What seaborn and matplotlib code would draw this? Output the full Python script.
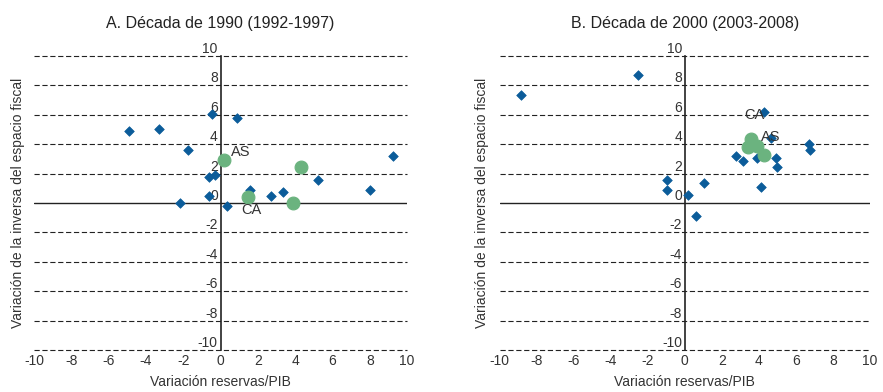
import numpy as np
import pandas as pd
import seaborn as sns
import matplotlib.pyplot as plt

sns.set_style('white')
plt.rcParams['font.family'] = ['Liberation Sans', 'DejaVu Sans']
plt.rcParams['axes.unicode_minus'] = False

# Panel A: 1990s, blue = individual countries, green = group averages
a_x = [-4.92, -3.32, -1.74, -0.44, 0.86, -0.60, -0.32, -0.64, -2.19, 0.37,
       1.57, 2.71, 3.37, 9.22, 5.22, 8.00]
a_y = [4.88, 5.04, 3.59, 6.07, 5.79, 1.77, 1.91, 0.45, 0.00, -0.18,
       0.91, 0.50, 0.75, 3.18, 1.57, 0.86]
a_gx = [0.20, 1.46, 4.32, 3.90]
a_gy = [2.95, 0.41, 2.47, -0.03]

# Panel B: 2000s
b_x = [-8.84, -2.50, -0.95, -0.95, 0.20, 0.58, 1.04, 2.77, 3.14, 3.90,
       4.28, 4.13, 4.64, 4.90, 4.98, 6.70, 6.74]
b_y = [7.38, 8.70, 1.54, 0.91, 0.57, -0.87, 1.38, 3.18, 2.88, 3.04,
       6.18, 1.11, 4.43, 3.07, 2.45, 4.02, 3.63]
b_gx = [3.60, 3.41, 3.90, 4.28]
b_gy = [4.36, 3.82, 3.90, 3.29]

ticks = [-10, -8, -6, -4, -2, 0, 2, 4, 6, 8, 10]
blue = '#0b5c9a'
green = '#6bb37f'

panels = [
    ('A. Década de 1990 (1992-1997)', a_x, a_y, a_gx, a_gy,
     [('AS', 0.55, 3.45), ('CA', 1.10, -0.50)]),
    ('B. Década de 2000 (2003-2008)', b_x, b_y, b_gx, b_gy,
     [('CA', 3.20, 6.00), ('AS', 4.10, 4.50)]),
]
positions = [[0.0385, 0.107, 0.4225, 0.75], [0.5657, 0.107, 0.4196, 0.75]]
ylabel_x = [18, 482]

fig = plt.figure(figsize=(8.83, 3.92), dpi=100)

for i, (title, x, y, gx, gy, labels) in enumerate(panels):
    ax = fig.add_axes(positions[i])
    pts = pd.DataFrame({'x': x, 'y': y})
    grp = pd.DataFrame({'x': gx, 'y': gy})

    ax.set_xlim(-10, 10)
    ax.set_ylim(-10, 10)
    ax.set_xticks(ticks)
    ax.set_yticks(ticks)

    # dashed horizontal grid, solid zero line
    for t in ticks:
        if t == 0:
            ax.axhline(0, color='#222222', linewidth=1.0, zorder=2)
        else:
            ax.axhline(t, color='#222222', linewidth=0.8,
                       linestyle=(0, (4.7, 2.4)), zorder=1, clip_on=False)

    sns.scatterplot(data=pts, x='x', y='y', ax=ax, marker='D', s=24,
                    color=blue, edgecolor=blue, linewidth=0.5, zorder=3)
    sns.scatterplot(data=grp, x='x', y='y', ax=ax, marker='o', s=85,
                    color=green, edgecolor=green, linewidth=0.8, zorder=4)

    for txt, tx, ty in labels:
        ax.text(tx, ty, txt, fontsize=10.5, color='#333333',
                ha='left', va='center', zorder=5)

    for side in ['top', 'right', 'bottom']:
        ax.spines[side].set_visible(False)
    ax.spines['left'].set_position(('data', 0))
    ax.spines['left'].set_color('#222222')
    ax.spines['left'].set_linewidth(1.2)
    ax.spines['left'].set_zorder(2)

    ax.tick_params(axis='both', length=0, labelsize=10, colors='#333333')
    ax.tick_params(axis='y', pad=2)
    ax.tick_params(axis='x', pad=3)
    for lab in ax.get_yticklabels():
        lab.set_va('bottom')

    ax.set_xlabel('Variación reservas/PIB', fontsize=10, color='#333333',
                  labelpad=5)
    ax.set_ylabel('')
    ax.set_title(title, fontsize=11.5, color='#222222', pad=20)

    fig.text(ylabel_x[i] / 883, 1 - 203 / 392,
             'Variación de la inversa del espacio fiscal',
             rotation=90, ha='center', va='center', fontsize=10,
             color='#333333')

fig.savefig('out.png', dpi=100)
